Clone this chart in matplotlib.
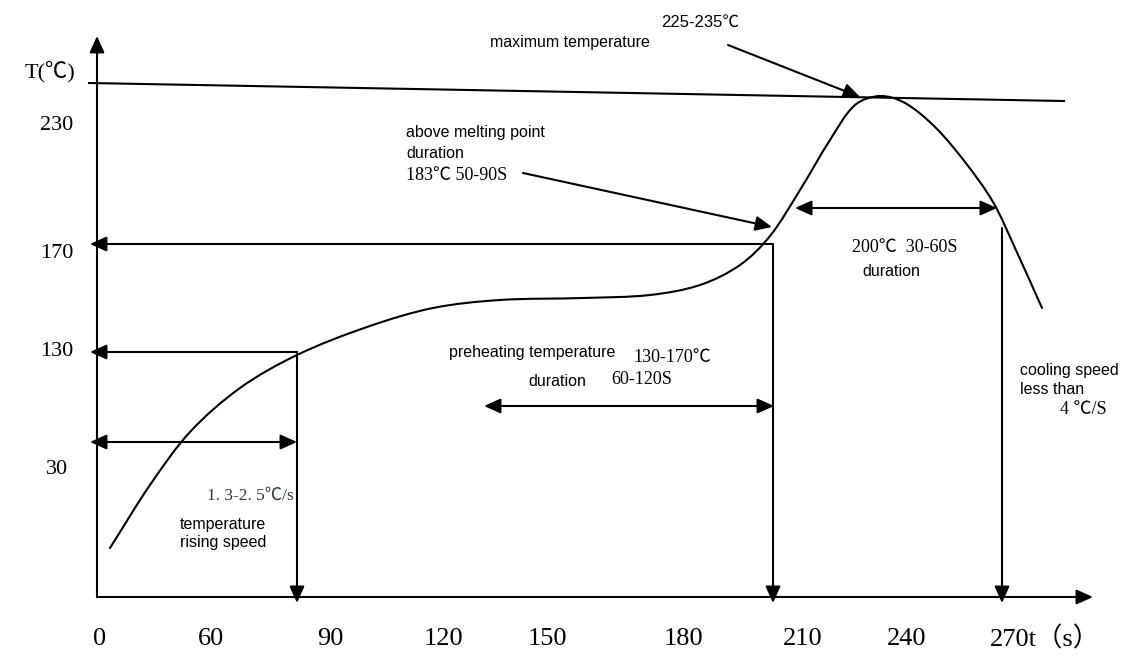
import matplotlib
matplotlib.use('Agg')
import numpy as np
import matplotlib.pyplot as plt
from matplotlib.path import Path
from matplotlib.patches import PathPatch

# 図はスケール通りではないので、描画単位(画像のピクセル位置)で値を持つ
# リフロー温度曲線 (x, y)
curve_x = [110, 150, 190, 240, 297, 367, 433, 500, 583, 650, 700, 740, 770,
           800, 830, 855, 880, 905, 935, 965, 993, 1015, 1042]
curve_y = [548, 485, 432, 388, 355, 327, 308, 300, 298, 295, 285, 265, 236,
           190, 140, 105, 96, 103, 127, 162, 202, 248, 308]

# 時間軸の目盛り
time_pos = [100, 211, 330, 443, 547, 683, 803, 907]
time_labels = ['0', '60', '90', '120', '150', '180', '210', '240']
time_last = '270t（s）'

# 温度軸の目盛り
temp_pos = [126, 253, 351, 469]
temp_labels = ['230', '170', '130', '30']

# 温度レベル (左向き矢印) と時間マーカー (下向き矢印)
level_y = [244, 352]
level_x_end = [773, 297]
marker_x = [297, 773, 1002]
marker_y_top = [352, 244, 228]

# 区間の両矢印 (x0, x1, y)
spans = [(90, 297, 442), (484, 774, 406), (795, 997, 208)]

# 説明用の矢印 (始点, 先端)
pointers = [((523, 173), (772, 227)), ((728, 45), (860, 97))]

# 最高温度の線
peak_line_x = [89, 1064]
peak_line_y = [83, 101]

SANS = ['Liberation Sans', 'DejaVu Sans']
SERIF = ['Liberation Serif', 'Noto Sans CJK SC', 'DejaVu Sans']

fig = plt.figure(figsize=(11.27, 6.63), dpi=100)
ax = fig.add_axes([0, 0, 1, 1])
ax.set_xlim(0, 1127)
ax.set_ylim(663, 0)
ax.axis('off')

LW = 1.5


def arrow(start, end, style='-|>'):
    ax.annotate('', xy=end, xytext=start,
                arrowprops=dict(arrowstyle=f'{style},head_length=1.0,head_width=0.45',
                                lw=LW, color='k', shrinkA=0, shrinkB=0,
                                mutation_scale=10))


def smooth_path(xs, ys):
    # 読み取った点を通るベジェ曲線 (弦長パラメータのエルミート補間の制御点)
    p = np.column_stack([xs, ys]).astype(float)
    d = np.hypot(*np.diff(p, axis=0).T)
    t = np.concatenate([[0], np.cumsum(d)])
    m = np.zeros_like(p)
    m[1:-1] = (p[2:] - p[:-2]) / (t[2:] - t[:-2])[:, None]
    m[0] = (p[1] - p[0]) / d[0]
    m[-1] = (p[-1] - p[-2]) / d[-1]
    verts = [p[0]]
    codes = [Path.MOVETO]
    for i in range(len(p) - 1):
        h = d[i] / 3
        verts += [p[i] + m[i] * h, p[i + 1] - m[i + 1] * h, p[i + 1]]
        codes += [Path.CURVE4] * 3
    return Path(verts, codes)


# 軸
arrow((97, 597), (97, 36))
arrow((97, 597), (1093, 597))

# 曲線と最高温度線
ax.add_patch(PathPatch(smooth_path(curve_x, curve_y), fill=False, lw=LW,
                       edgecolor='k', capstyle='round'))
ax.plot(peak_line_x, peak_line_y, color='k', lw=LW)

for y, x in zip(level_y, level_x_end):
    arrow((x, y), (90, y))
for x, y in zip(marker_x, marker_y_top):
    arrow((x, y), (x, 603))
for x0, x1, y in spans:
    arrow((x0, y), (x1, y), '<|-|>')
for s, e in pointers:
    arrow(s, e)

# 目盛りラベル
for x, lab in zip(time_pos, time_labels):
    ax.text(x, 639, lab, family=SERIF, fontsize=19, ha='center', va='center')
ax.text(990, 639, time_last, family=SERIF, fontsize=19, ha='left', va='center')
for y, lab in zip(temp_pos, temp_labels):
    ax.text(57, y, lab, family=SERIF, fontsize=16, ha='center', va='center')
ax.text(25, 72, 'T(℃)', family=SERIF, fontsize=16, ha='left', va='center')

# 注記
sans_notes = [
    (490, 43, 'maximum temperature'),
    (406, 133, 'above melting point'),
    (406, 153, 'duration'),
    (862, 272, 'duration'),
    (449, 353, 'preheating temperature'),
    (528, 381, 'duration'),
    (1020, 370, 'cooling speed'),
    (1020, 389, 'less than'),
    (180, 524, 'temperature'),
    (180, 543, 'rising speed'),
]
for x, y, s in sans_notes:
    ax.text(x, y, s, family=SANS, fontsize=11.5, ha='left', va='center')

ax.text(661, 22, '225-235℃', family=['Liberation Sans', 'Noto Sans CJK SC'],
        fontsize=12, ha='left', va='center')

serif_notes = [
    (406, 176, '183℃ 50-90S'),
    (852, 248, '200℃  30-60S'),
    (633, 357, '130-170℃'),
    (611, 379, '60-120S'),
    (1060, 410, '4 ℃/S'),
]
for x, y, s in serif_notes:
    ax.text(x, y, s, family=SERIF, fontsize=13, ha='left', va='center')

ax.text(207, 496, '1. 3-2. 5℃/s', family=SERIF, fontsize=12.5, ha='left',
        va='center', color='#2b3a2b')

fig.savefig('out.png', dpi=100)
